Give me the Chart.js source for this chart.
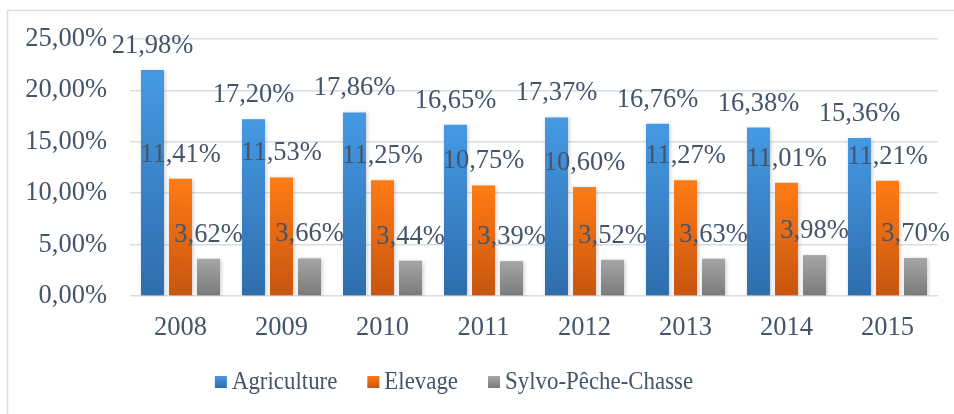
<!DOCTYPE html>
<html>
<head>
<meta charset="utf-8">
<script src="https://cdn.jsdelivr.net/npm/chart.js@4"></script>
<style>
html,body{margin:0;padding:0;background:#fff;}
canvas{display:block;}
</style>
</head>
<body>
<canvas id="c" width="954" height="414"></canvas>
<script>
const years = ['2008','2009','2010','2011','2012','2013','2014','2015'];
const agriculture = [21.98, 17.20, 17.86, 16.65, 17.37, 16.76, 16.38, 15.36];
const elevage = [11.41, 11.53, 11.25, 10.75, 10.60, 11.27, 11.01, 11.21];
const sylvo = [3.62, 3.66, 3.44, 3.39, 3.52, 3.63, 3.98, 3.70];
const seriesNames = ['Agriculture', 'Elevage', 'Sylvo-Pêche-Chasse'];
const yTicks = [0, 5, 10, 15, 20, 25];

const TEXT = '#44546a';
const FONT = "'Liberation Serif', 'Times New Roman', serif";
const palettes = [
  ['#4599e3', '#2e6dac'],
  ['#ff7b14', '#c7550f'],
  ['#a6a6a6', '#7a7a7a']
];

function fmt(v){ return v.toFixed(2).replace('.', ',') + '%'; }

function barGradient(i){
  return function(ctx){
    const chart = ctx.chart;
    const ys = chart.scales && chart.scales.y;
    if (!ys || !chart.chartArea || ctx.raw == null) return palettes[i][0];
    const top = ys.getPixelForValue(ctx.raw);
    const base = ys.getPixelForValue(0);
    const g = chart.ctx.createLinearGradient(0, top, 0, base);
    g.addColorStop(0, palettes[i][0]);
    g.addColorStop(1, palettes[i][1]);
    return g;
  };
}

const framePlugin = {
  id: 'frame',
  beforeDraw(chart){
    const c = chart.ctx;
    c.save();
    c.fillStyle = '#fff';
    c.fillRect(0, 0, chart.width, chart.height);
    c.strokeStyle = '#d9dde3';
    c.lineWidth = 1.5;
    c.strokeRect(7.5, 10.5, chart.width + 20, chart.height + 20);
    c.restore();
  }
};

const shadowPlugin = {
  id: 'barShadow',
  beforeDatasetsDraw(chart){
    const c = chart.ctx;
    c.save();
    c.shadowColor = 'rgba(0,0,0,0.22)';
    c.shadowBlur = 4;
    c.shadowOffsetX = 1;
    c.shadowOffsetY = 1;
  },
  afterDatasetsDraw(chart){
    chart.ctx.restore();
  }
};

const labelPlugin = {
  id: 'valueLabels',
  afterDatasetsDraw(chart){
    const c = chart.ctx;
    c.save();
    c.font = "26.5px " + FONT;
    c.fillStyle = TEXT;
    c.textAlign = 'center';
    c.textBaseline = 'alphabetic';
    chart.data.datasets.forEach((ds, di) => {
      const meta = chart.getDatasetMeta(di);
      meta.data.forEach((bar, i) => {
        c.fillText(fmt(ds.data[i]), bar.x, bar.y - 17);
      });
    });
    c.restore();
  }
};

const legendPlugin = {
  id: 'customLegend',
  afterDraw(chart){
    const c = chart.ctx;
    c.save();
    c.font = "26px " + FONT;
    c.textBaseline = 'alphabetic';
    const sx = 0.88;
    const box = 12, gapText = 5, gapItem = 30, cy = 382, baseline = 389;
    const items = chart.data.datasets.map(d => d.label);
    let total = 0;
    items.forEach((t, i) => { total += box + gapText + c.measureText(t).width * sx + (i < items.length - 1 ? gapItem : 0); });
    let x = 454 - total / 2;
    items.forEach((t, i) => {
      const g = c.createLinearGradient(0, cy - box/2, 0, cy + box/2);
      g.addColorStop(0, palettes[i][0]);
      g.addColorStop(1, palettes[i][1]);
      c.fillStyle = g;
      c.fillRect(x, cy - box/2, box, box);
      x += box + gapText;
      c.fillStyle = TEXT;
      c.save();
      c.translate(x, baseline);
      c.scale(sx, 1);
      c.fillText(t, 0, 0);
      c.restore();
      x += c.measureText(t).width * sx + gapItem;
    });
    c.restore();
  }
};

const datasets = [agriculture, elevage, sylvo].map((arr, i) => ({
  label: seriesNames[i],
  data: arr,
  backgroundColor: barGradient(i),
  borderWidth: 0,
  barPercentage: 0.82,
  categoryPercentage: 0.832
}));

new Chart(document.getElementById('c'), {
  type: 'bar',
  data: { labels: years, datasets },
  plugins: [framePlugin, shadowPlugin, labelPlugin, legendPlugin],
  options: {
    responsive: false,
    animation: false,
    devicePixelRatio: 1,
    layout: { padding: { top: 39, right: 16, left: 0, bottom: 56 } },
    plugins: { legend: { display: false }, tooltip: { enabled: false } },
    scales: {
      x: {
        grid: { display: false, drawTicks: false },
        border: { display: false },
        ticks: { color: TEXT, font: { family: FONT, size: 26.5 }, padding: 16, maxRotation: 0 },
        afterFit(s){ s.height = 62; }
      },
      y: {
        min: 0, max: 25,
        afterBuildTicks(s){ s.ticks = yTicks.map(v => ({ value: v })); },
        grid: { color: '#d9dee5', lineWidth: 1.5, drawTicks: false },
        border: { display: false },
        ticks: { color: TEXT, font: { family: FONT, size: 26.5 }, padding: 23, callback: v => fmt(v) },
        afterFit(s){ s.width = 130; }
      }
    }
  }
});
</script>
</body>
</html>
